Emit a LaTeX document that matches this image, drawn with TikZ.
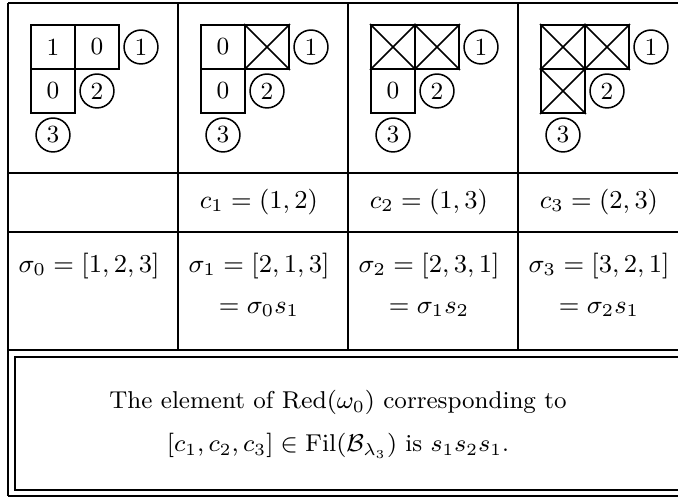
\RequirePackage{fix-cm}
\documentclass[tikz,border=0pt]{standalone}
\usepackage{amsmath}
\usepackage{tikz}
\usetikzlibrary{positioning}

\begin{document}
\begin{tikzpicture}[x=3.57pt, y=3.57pt, font={\fontsize{9.2}{11}\selectfont},
  rule/.style={line width=0.7pt},
  cellbox/.style={draw, line width=0.7pt, minimum size=15.7pt, inner sep=0pt, font={\fontsize{8.8}{10.5}\selectfont}},
  circnum/.style={draw, circle, line width=0.55pt, minimum size=12.1pt, inner sep=0pt, font={\fontsize{8.8}{10.5}\selectfont}},
  note/.style={anchor=base, font={\fontsize{8.7}{10.5}\selectfont}}]
  \useasboundingbox (0,0) rectangle (67.8,49.8);
  % table rules
  \foreach \y in {49.5, 32.5, 26.6, 14.8, 0.2}
    \draw[rule] (0.8,\y) -- (68.8,\y);
  \draw[rule] (0.8,49.5) -- (0.8,0.2);
  \draw[rule] (68.8,49.5) -- (68.8,0.2);
  \foreach \x in {17.8, 34.8, 51.8}
    \draw[rule] (\x,49.5) -- (\x,14.8);
  % numbered cells
  \foreach \k/\i/\j/\n in {0/0/0/1, 0/1/0/0, 0/0/1/0, 1/0/0/0, 1/0/1/0, 2/0/1/0}
    \node[cellbox] (n\k\i\j) at (5.3+17*\k+4.4*\i, 45.1-4.4*\j) {\n};
  % crossed cells
  \foreach \k/\i/\j in {1/1/0, 2/0/0, 2/1/0, 3/0/0, 3/1/0, 3/0/1} {
    \node[cellbox] (x\k\i\j) at (5.3+17*\k+4.4*\i, 45.1-4.4*\j) {};
    \draw[semithick] (x\k\i\j.north west) -- (x\k\i\j.south east)
                     (x\k\i\j.south west) -- (x\k\i\j.north east);
  }
  % addable corners
  \foreach \k in {0,...,3} {
    \node[circnum] (a\k) at (14.1+17*\k, 45.1) {1};
    \node[circnum] (b\k) at (9.7+17*\k, 40.7) {2};
    \node[circnum] (d\k) at (5.3+17*\k, 36.3) {3};
  }
  % columns c_k
  \foreach \k/\t in {1/{$c_1 = (1,2)$}, 2/{$c_2 = (1,3)$}, 3/{$c_3 = (2,3)$}}
    \node[anchor=base] (c\k) at (8.9+17*\k, 28.9) {\t};
  % permutations
  \node[anchor=base] (s0) at (8.9, 22.5) {$\sigma_0 = [1,2,3]$};
  \foreach \k/\p/\q in {1/{[2,1,3]}/{\sigma_0 s_1}, 2/{[2,3,1]}/{\sigma_1 s_2}, 3/{[3,2,1]}/{\sigma_2 s_1}} {
    \node[anchor=base] (s\k) at (8.9+17*\k, 22.5) {$\sigma_\k = \p$};
    \node[anchor=base] (t\k) at (8.9+17*\k, 18.4) {$= \q$};
  }
  % boxed statement
  \draw[line width=0.8pt] (1.5,14.1) rectangle (68.1,0.8);
  \node[note] (line1) at (33.8, 8.9) {The element of $\mathrm{Red}(\omega_0)$ corresponding to};
  \node[note] (line2) at (33.8, 4.6) {$[c_1, c_2, c_3] \in \mathrm{Fil}(\mathcal{B}_{\lambda_3})$ is $s_1 s_2 s_1$.};
\end{tikzpicture}
\end{document}
